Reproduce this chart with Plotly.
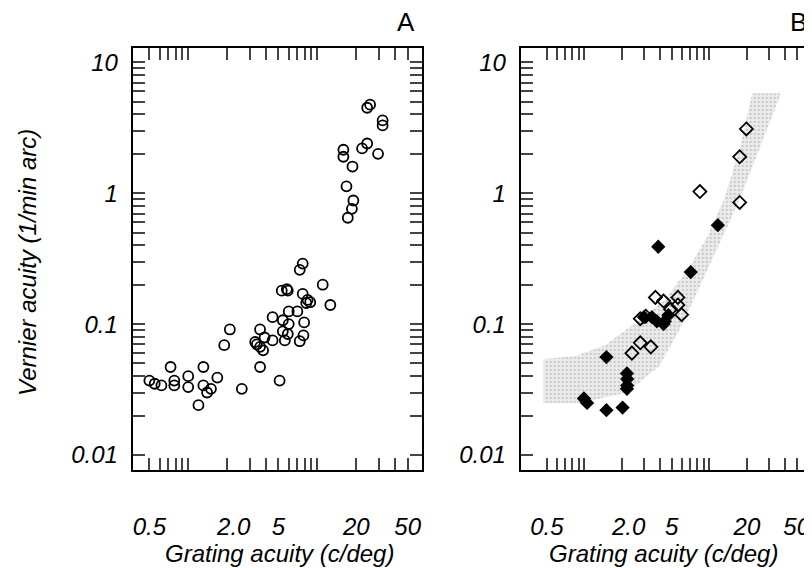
import plotly.graph_objects as go

# panel A: open circles
a_x = [24.3, 25.6, 32, 32, 29.5, 22.2, 24.3, 15.9, 15.9, 18.7, 16.8, 19, 18.5, 17.2,
       7.7, 7.3, 11, 5.3, 5.8, 5.9, 7.7, 8.4, 8.8, 8.2, 12.6, 6.0, 7.0, 4.5, 5.4, 6.0,
       7.9, 5.4, 5.9, 5.6, 7.3, 7.8, 3.6, 3.9, 4.5, 3.3, 3.4, 3.6, 3.8, 3.6, 5.1,
       2.1, 1.9, 2.6, 1.68, 1.5, 1.31, 1.31, 1.4, 1.2, 1.0, 1.0, 0.73, 0.78, 0.78,
       0.62, 0.55, 0.50]
a_y = [4.5, 4.75, 3.6, 3.3, 2.0, 2.2, 2.4, 2.15, 1.9, 1.6, 1.13, 0.88, 0.76, 0.65,
       0.29, 0.26, 0.2, 0.18, 0.185, 0.18, 0.17, 0.153, 0.147, 0.145, 0.14, 0.125, 0.125,
       0.113, 0.107, 0.1, 0.103, 0.088, 0.084, 0.075, 0.074, 0.082, 0.091, 0.079, 0.075,
       0.073, 0.070, 0.067, 0.063, 0.047, 0.037, 0.091, 0.069, 0.032, 0.039, 0.032,
       0.047, 0.034, 0.030, 0.024, 0.040, 0.033, 0.047, 0.037, 0.034, 0.034, 0.035, 0.037]

# panel B: filled and open diamonds
bf_x = [0.99, 1.05, 1.5, 1.5, 2.02, 2.19, 2.2, 2.2, 2.19, 3.9, 3.47, 3.8, 4.4, 4.7,
        7.1, 11.7, 3.0, 4.3]
bf_y = [0.027, 0.025, 0.056, 0.022, 0.023, 0.042, 0.038, 0.034, 0.032, 0.39, 0.113,
        0.105, 0.105, 0.117, 0.25, 0.57, 0.113, 0.10]
bo_x = [2.8, 3.1, 3.7, 4.3, 5.6, 5.6, 4.9, 6.0, 2.8, 3.4, 2.4, 8.4, 17.5, 17.5, 19.8]
bo_y = [0.11, 0.115, 0.16, 0.15, 0.16, 0.14, 0.13, 0.118, 0.072, 0.067, 0.060, 1.03,
        1.9, 0.85, 3.1]

# shaded band (outline, clockwise)
band_x = [0.47, 0.85, 1.46, 2.5, 4.3, 6.9, 9.8, 13.2, 17.8, 21, 22, 37, 37, 27, 16.7,
          9.8, 6.1, 4.0, 2.2, 0.91, 0.47]
band_y = [0.054, 0.057, 0.069, 0.10, 0.15, 0.27, 0.48, 0.91, 2.3, 4.9, 5.8, 5.8, 5.6,
          2.6, 0.81, 0.27, 0.10, 0.048, 0.030, 0.025, 0.025]

x_ticks = [0.5, 0.6, 0.7, 0.8, 0.9, 1, 2, 3, 4, 5, 6, 7, 8, 9, 10, 20, 30, 40, 50]
x_text = ["0.5", "", "", "", "", "", "\u00a0\u00a02.0", "", "", "5", "", "", "",
          "", "", "20", "", "", "50"]
y_ticks = [m * 10 ** e for e in (-2, -1, 0) for m in range(1, 10)] + [10]
y_text = ["0.01" if v == 0.01 else "0.1" if v == 0.1 else "1" if v == 1 else
          "10" if v == 10 else "" for v in y_ticks]

W, H = 812, 568
O = 8  # page body margin
tf = dict(family="Liberation Sans", size=24, color="black", style="italic")

fig = go.Figure()
fig.add_trace(go.Scatter(x=a_x, y=a_y, mode="markers", xaxis="x", yaxis="y",
                         marker=dict(symbol="circle-open", size=10, color="black",
                                     line=dict(width=1.8))))
fig.add_trace(go.Scatter(x=band_x, y=band_y, mode="lines", fill="toself",
                         xaxis="x2", yaxis="y2", line=dict(width=0),
                         fillcolor="rgba(225,225,225,1)",
                         fillpattern=dict(shape=".", fgcolor="#aaaaaa",
                                          bgcolor="#ececec", size=4, solidity=0.3)))
fig.add_trace(go.Scatter(x=bf_x, y=bf_y, mode="markers", xaxis="x2", yaxis="y2",
                         marker=dict(symbol="diamond", size=11, color="black")))
fig.add_trace(go.Scatter(x=bo_x, y=bo_y, mode="markers", xaxis="x2", yaxis="y2",
                         marker=dict(symbol="diamond-open", size=10, color="black",
                                     line=dict(width=1.8))))

def xa(dom, rng):
    return dict(type="log", domain=dom, range=rng, tickvals=x_ticks, ticktext=x_text,
                ticks="inside", ticklen=12, tickwidth=1.5, mirror="ticks",
                showline=True, linewidth=2, linecolor="black", showgrid=False,
                zeroline=False, tickfont=tf, ticklabelstandoff=34)

def ya(anchor):
    return dict(type="log", domain=[1 - (470 - O) / H, 1 - (48 - O) / H],
                range=[-2.115, 1.11],
                tickvals=y_ticks, ticktext=y_text, ticks="inside", ticklen=12,
                tickwidth=1.5, mirror="ticks", showline=True, linewidth=2,
                linecolor="black", showgrid=False, zeroline=False, tickfont=tf,
                anchor=anchor, ticklabelstandoff=8)

fig.update_layout(
    width=W, height=H, margin=dict(l=0, r=0, t=0, b=0),
    plot_bgcolor="white", paper_bgcolor="white", showlegend=False,
    xaxis=xa([(133 - O) / W, (423 - O) / W], [-0.43, 1.81]),
    yaxis=ya("x"),
    xaxis2=dict(xa([(522 - O) / W, 1.0], [-0.51, 1.87]), anchor="y2"),
    yaxis2=ya("x2"),
)
tt = dict(family="Liberation Sans", size=24, color="black", style="italic")

def note(text, x, y, font, angle=0):
    fig.add_annotation(text=text, x=(x - O) / W, y=1 - (y - O) / H, xref="paper",
                       yref="paper", xanchor="center", yanchor="middle",
                       showarrow=False, font=font, textangle=angle)

note("Grating acuity (c/deg)", 280, 553, tt)
note("Grating acuity (c/deg)", 665, 553, tt)
note("Vernier acuity (1/min arc)", 28, 262, tt, -90)
big = dict(family="Liberation Sans", size=26, color="black")
note("A", 407, 22, big)
note("B", 800, 22, big)

fig.write_html("out.html")
